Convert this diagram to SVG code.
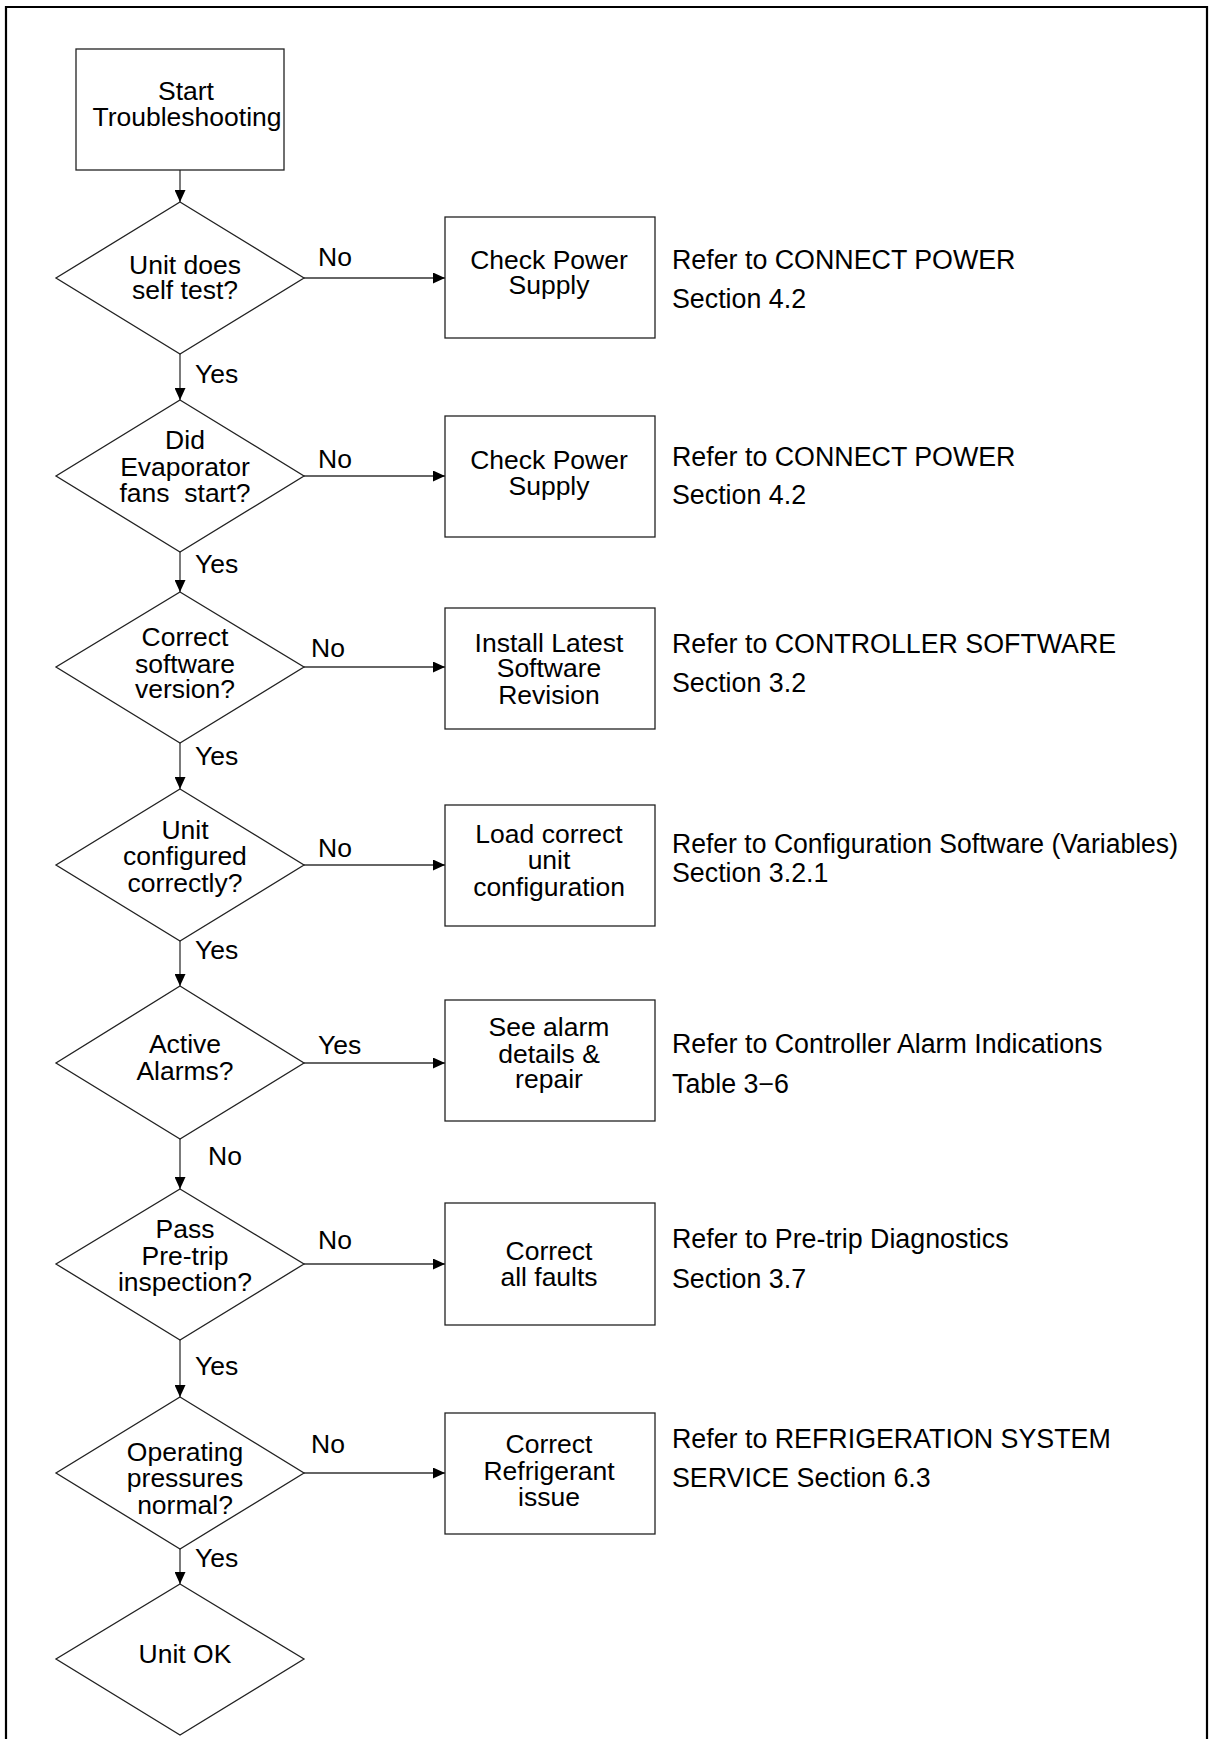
<svg xmlns="http://www.w3.org/2000/svg" width="1209" height="1739" viewBox="0 0 1209 1739">
<style>
text{font-family:"Liberation Sans",Arial,sans-serif;font-size:26.5px;fill:#000}
.c{text-anchor:middle}
.r{font-size:26.8px}
.node{fill:#fff;stroke:#222;stroke-width:1.3}
.edge{stroke:#333;stroke-width:1.3;fill:none}
.frame{stroke:#000;stroke-width:2.2;fill:none}
</style>
<defs>
<marker id="arr" markerUnits="userSpaceOnUse" markerWidth="12" markerHeight="11" refX="12" refY="5.5" orient="auto">
<path d="M0,0 L12,5.5 L0,11 z" fill="#000"/>
</marker>
</defs>
<rect width="1209" height="1739" fill="#fff"/>
<path class="frame" d="M6,1740 V7 H1207 V1740"/>

<g id="connectors">
<line class="edge" x1="180" y1="170" x2="180" y2="202" marker-end="url(#arr)"/>
<line class="edge" x1="180" y1="354" x2="180" y2="400" marker-end="url(#arr)"/>
<line class="edge" x1="180" y1="552" x2="180" y2="592" marker-end="url(#arr)"/>
<line class="edge" x1="180" y1="743" x2="180" y2="789" marker-end="url(#arr)"/>
<line class="edge" x1="180" y1="941" x2="180" y2="986" marker-end="url(#arr)"/>
<line class="edge" x1="180" y1="1139" x2="180" y2="1189" marker-end="url(#arr)"/>
<line class="edge" x1="180" y1="1340" x2="180" y2="1397" marker-end="url(#arr)"/>
<line class="edge" x1="180" y1="1549" x2="180" y2="1584" marker-end="url(#arr)"/>
<line class="edge" x1="304" y1="278" x2="445" y2="278" marker-end="url(#arr)"/>
<line class="edge" x1="304" y1="476" x2="445" y2="476" marker-end="url(#arr)"/>
<line class="edge" x1="304" y1="667" x2="445" y2="667" marker-end="url(#arr)"/>
<line class="edge" x1="304" y1="865" x2="445" y2="865" marker-end="url(#arr)"/>
<line class="edge" x1="304" y1="1063" x2="445" y2="1063" marker-end="url(#arr)"/>
<line class="edge" x1="304" y1="1264" x2="445" y2="1264" marker-end="url(#arr)"/>
<line class="edge" x1="304" y1="1473" x2="445" y2="1473" marker-end="url(#arr)"/>
<text x="195" y="383">Yes</text>
<text x="195" y="573">Yes</text>
<text x="195" y="765">Yes</text>
<text x="195" y="959">Yes</text>
<text x="208" y="1165">No</text>
<text x="195" y="1375">Yes</text>
<text x="195" y="1567">Yes</text>
<text x="318" y="266">No</text>
<text x="318" y="468">No</text>
<text x="311" y="657">No</text>
<text x="318" y="857">No</text>
<text x="318" y="1054">Yes</text>
<text x="318" y="1249">No</text>
<text x="311" y="1453">No</text>
</g>

<g id="start">
<rect class="node" x="76" y="49" width="208" height="121"/>
<text class="c" x="186" y="100">Start</text>
<text class="c" x="187" y="126">Troubleshooting</text>
</g>

<g id="d1">
<polygon class="node" points="180,202 304,278 180,354 56,278"/>
<text class="c" x="185" y="274">Unit does</text>
<text class="c" x="185" y="299">self test?</text>
</g>
<g id="d2">
<polygon class="node" points="180,400 304,476 180,552 56,476"/>
<text class="c" x="185" y="449">Did</text>
<text class="c" x="185" y="476">Evaporator</text>
<text class="c" x="185" y="502" xml:space="preserve">fans  start?</text>
</g>
<g id="d3">
<polygon class="node" points="180,592 304,667 180,743 56,667"/>
<text class="c" x="185" y="646">Correct</text>
<text class="c" x="185" y="673">software</text>
<text class="c" x="185" y="698">version?</text>
</g>
<g id="d4">
<polygon class="node" points="180,789 304,865 180,941 56,865"/>
<text class="c" x="185" y="839">Unit</text>
<text class="c" x="185" y="865">configured</text>
<text class="c" x="185" y="892">correctly?</text>
</g>
<g id="d5">
<polygon class="node" points="180,986 304,1063 180,1139 56,1063"/>
<text class="c" x="185" y="1053">Active</text>
<text class="c" x="185" y="1080">Alarms?</text>
</g>
<g id="d6">
<polygon class="node" points="180,1189 304,1264 180,1340 56,1264"/>
<text class="c" x="185" y="1238">Pass</text>
<text class="c" x="185" y="1265">Pre-trip</text>
<text class="c" x="185" y="1291">inspection?</text>
</g>
<g id="d7">
<polygon class="node" points="180,1397 304,1473 180,1549 56,1473"/>
<text class="c" x="185" y="1461">Operating</text>
<text class="c" x="185" y="1487">pressures</text>
<text class="c" x="185" y="1514">normal?</text>
</g>
<g id="d8">
<polygon class="node" points="180,1584 304,1659 180,1735 56,1659"/>
<text class="c" x="185" y="1663">Unit OK</text>
</g>

<g id="b1">
<rect class="node" x="445" y="217" width="210" height="121"/>
<text class="c" x="549" y="269">Check Power</text>
<text class="c" x="549" y="294">Supply</text>
</g>
<g id="b2">
<rect class="node" x="445" y="416" width="210" height="121"/>
<text class="c" x="549" y="469">Check Power</text>
<text class="c" x="549" y="495">Supply</text>
</g>
<g id="b3">
<rect class="node" x="445" y="608" width="210" height="121"/>
<text class="c" x="549" y="652">Install Latest</text>
<text class="c" x="549" y="677">Software</text>
<text class="c" x="549" y="704">Revision</text>
</g>
<g id="b4">
<rect class="node" x="445" y="805" width="210" height="121"/>
<text class="c" x="549" y="843">Load correct</text>
<text class="c" x="549" y="869">unit</text>
<text class="c" x="549" y="896">configuration</text>
</g>
<g id="b5">
<rect class="node" x="445" y="1000" width="210" height="121"/>
<text class="c" x="549" y="1036">See alarm</text>
<text class="c" x="549" y="1063">details &amp;</text>
<text class="c" x="549" y="1088">repair</text>
</g>
<g id="b6">
<rect class="node" x="445" y="1203" width="210" height="122"/>
<text class="c" x="549" y="1260">Correct</text>
<text class="c" x="549" y="1286">all faults</text>
</g>
<g id="b7">
<rect class="node" x="445" y="1413" width="210" height="121"/>
<text class="c" x="549" y="1453">Correct</text>
<text class="c" x="549" y="1480">Refrigerant</text>
<text class="c" x="549" y="1506">issue</text>
</g>

<g id="refs">
<text class="r" x="672" y="269">Refer to CONNECT POWER</text>
<text class="r" x="672" y="308">Section 4.2</text>
<text class="r" x="672" y="466">Refer to CONNECT POWER</text>
<text class="r" x="672" y="504">Section 4.2</text>
<text class="r" x="672" y="653">Refer to CONTROLLER SOFTWARE</text>
<text class="r" x="672" y="692">Section 3.2</text>
<text class="r" x="672" y="853" textLength="506" lengthAdjust="spacingAndGlyphs">Refer to Configuration Software (Variables)</text>
<text class="r" x="672" y="882">Section 3.2.1</text>
<text class="r" x="672" y="1053">Refer to Controller Alarm Indications</text>
<text class="r" x="672" y="1093">Table 3−6</text>
<text class="r" x="672" y="1248">Refer to Pre-trip Diagnostics</text>
<text class="r" x="672" y="1288">Section 3.7</text>
<text class="r" x="672" y="1448">Refer to REFRIGERATION SYSTEM</text>
<text class="r" x="672" y="1487">SERVICE Section 6.3</text>
</g>
</svg>
